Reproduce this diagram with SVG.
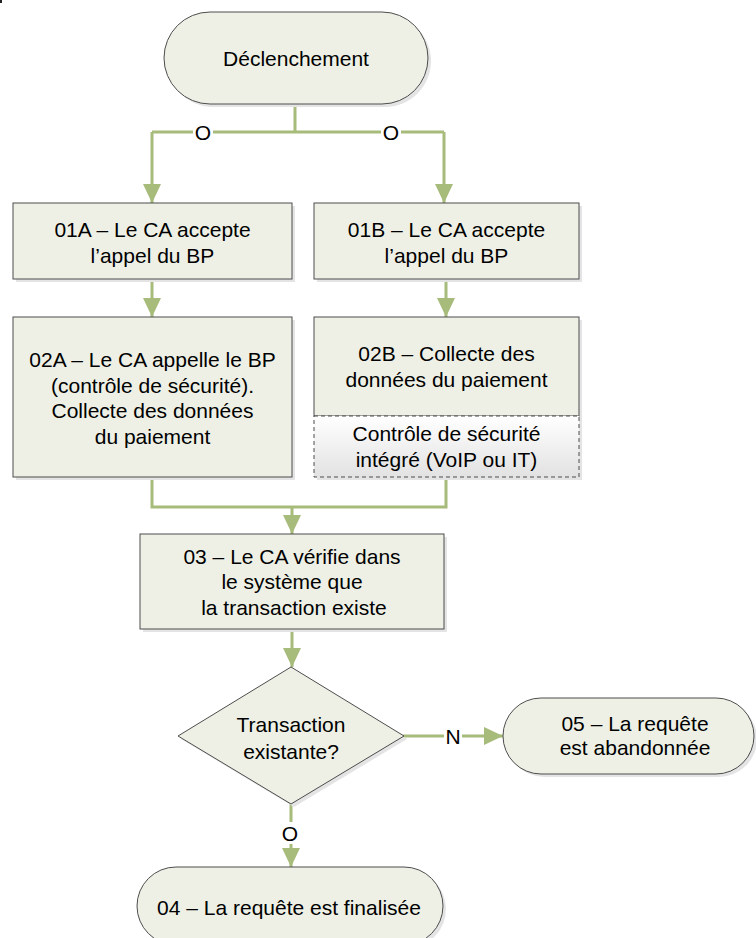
<svg xmlns="http://www.w3.org/2000/svg" width="756" height="938" viewBox="0 0 756 938">
  <defs>
    <style>
      .shape { fill: #EEF0E6; stroke: #4D4D4D; stroke-width: 1; }
      .shadow { fill: #E4E4E4; }
      .sub { fill: url(#subGrad); stroke: #4D4D4D; stroke-width: 1; stroke-dasharray: 4 3; }
      .conn { fill: none; stroke: #A7BB7B; stroke-width: 3; }
      .lbl { font-family: "Liberation Sans", Arial, sans-serif; font-size: 21px; fill: #000; text-anchor: middle; }
      .lblbg { fill: #FFFFFF; }
    </style>
    <linearGradient id="subGrad" x1="0" y1="0" x2="0" y2="1">
      <stop offset="0" stop-color="#FFFFFF"/>
      <stop offset="1" stop-color="#E2E2E2"/>
    </linearGradient>
    <marker id="arrow" markerUnits="userSpaceOnUse" markerWidth="20" markerHeight="20" viewBox="0 0 20 20" refX="19" refY="10" orient="auto">
      <path d="M0 1 L19 10 L0 19 Z" fill="#A7BB7B"/>
    </marker>
  </defs>

  <rect x="0" y="0" width="2" height="3" fill="#222"/>

  <!-- connectors -->
  <g id="connectors">
    <path class="conn" d="M295 104 V132"/>
    <path class="conn" d="M152 132 H444"/>
    <path class="conn" d="M152 132 V203" marker-end="url(#arrow)"/>
    <path class="conn" d="M444 132 V203" marker-end="url(#arrow)"/>
    <path class="conn" d="M152 279 V317" marker-end="url(#arrow)"/>
    <path class="conn" d="M446 279 V317" marker-end="url(#arrow)"/>
    <path class="conn" d="M152 477 V507 H446 V477"/>
    <path class="conn" d="M292 507 V534" marker-end="url(#arrow)"/>
    <path class="conn" d="M292 629 V667" marker-end="url(#arrow)"/>
    <path class="conn" d="M403 736 H503" marker-end="url(#arrow)"/>
    <path class="conn" d="M291 804 V867" marker-end="url(#arrow)"/>
    <rect class="lblbg" x="193" y="122" width="20" height="20"/>
    <text class="lbl" x="203" y="139.5">O</text>
    <rect class="lblbg" x="381" y="122" width="20" height="20"/>
    <text class="lbl" x="391" y="139.5">O</text>
    <rect class="lblbg" x="444" y="726" width="18" height="20"/>
    <text class="lbl" x="453" y="743.5">N</text>
    <rect class="lblbg" x="280" y="822" width="20" height="22"/>
    <text class="lbl" x="290" y="840.5">O</text>
  </g>

  <!-- start -->
  <g id="start">
    <rect class="shadow" x="167" y="15" width="264" height="92" rx="46"/>
    <rect class="shape" x="164" y="12" width="264" height="92" rx="46"/>
    <text class="lbl" x="296" y="65.5">Déclenchement</text>
  </g>

  <g id="step01A">
    <rect class="shadow" x="16" y="206" width="279" height="76"/>
    <rect class="shape" x="13" y="203" width="279" height="76"/>
    <text class="lbl" x="152.5" y="236.5">01A – Le CA accepte</text>
    <text class="lbl" x="152.5" y="262.5">l’appel du BP</text>
  </g>

  <g id="step01B">
    <rect class="shadow" x="317" y="206" width="265" height="76"/>
    <rect class="shape" x="314" y="203" width="265" height="76"/>
    <text class="lbl" x="446.5" y="236.5">01B – Le CA accepte</text>
    <text class="lbl" x="446.5" y="262.5">l’appel du BP</text>
  </g>

  <g id="step02A">
    <rect class="shadow" x="16" y="320" width="279" height="160"/>
    <rect class="shape" x="13" y="317" width="279" height="160"/>
    <text class="lbl" x="152.5" y="367">02A – Le CA appelle le BP</text>
    <text class="lbl" x="152.5" y="392.5">(contrôle de sécurité).</text>
    <text class="lbl" x="152.5" y="418">Collecte des données</text>
    <text class="lbl" x="152.5" y="443.5">du paiement</text>
  </g>

  <g id="step02B">
    <rect class="shadow" x="317" y="320" width="265" height="160"/>
    <rect class="shape" x="314" y="317" width="265" height="99"/>
    <rect class="sub" x="314" y="416" width="265" height="61"/>
    <text class="lbl" x="446.5" y="360.5">02B – Collecte des</text>
    <text class="lbl" x="446.5" y="386.5">données du paiement</text>
    <text class="lbl" x="446.5" y="440.5">Contrôle de sécurité</text>
    <text class="lbl" x="446.5" y="466.5">intégré (VoIP ou IT)</text>
  </g>

  <g id="step03">
    <rect class="shadow" x="143" y="537" width="304" height="95"/>
    <rect class="shape" x="140" y="534" width="304" height="95"/>
    <text class="lbl" x="292" y="563.5">03 – Le CA vérifie dans</text>
    <text class="lbl" x="292" y="589">le système que</text>
    <text class="lbl" x="294" y="614.5">la transaction existe</text>
  </g>

  <g id="decision">
    <path class="shadow" d="M294 670 L407 739 L294 807 L181 739 Z"/>
    <path class="shape" d="M291 667 L404 736 L291 804 L178 736 Z"/>
    <text class="lbl" x="291" y="732">Transaction</text>
    <text class="lbl" x="291" y="759">existante?</text>
  </g>

  <g id="step05">
    <rect class="shadow" x="506" y="701" width="251" height="76" rx="38"/>
    <rect class="shape" x="503" y="698" width="251" height="76" rx="38"/>
    <text class="lbl" x="635" y="730.5">05 – La requête</text>
    <text class="lbl" x="635" y="754.5">est abandonnée</text>
  </g>

  <g id="step04">
    <rect class="shadow" x="140" y="870" width="306" height="78" rx="39"/>
    <rect class="shape" x="137" y="867" width="306" height="78" rx="39"/>
    <text class="lbl" x="289" y="915">04 – La requête est finalisée</text>
  </g>
</svg>
